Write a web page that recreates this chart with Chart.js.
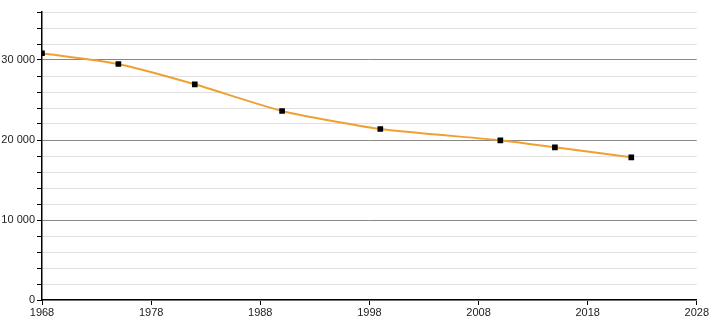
<!DOCTYPE html>
<html>
<head>
<meta charset="utf-8">
<script src="https://cdn.jsdelivr.net/npm/chart.js@4/dist/chart.umd.min.js"></script>
<style>
html,body{margin:0;padding:0;background:#fff;}
#wrap{width:710px;height:320px;position:relative;}
</style>
</head>
<body>
<div id="wrap"><canvas id="c" width="710" height="320"></canvas></div>
<script>
const years = [1968, 1975, 1982, 1990, 1999, 2010, 2015, 2022];
const population = [30840, 29500, 26960, 23630, 21380, 19960, 19080, 17830];
const xTicks = [1968, 1978, 1988, 1998, 2008, 2018, 2028];
const yLabelValues = [0, 10000, 20000, 30000];

function fmt(v){
  return String(v).replace(/\B(?=(\d{3})+(?!\d))/g, ' ');
}

new Chart(document.getElementById('c'), {
  type: 'line',
  data: {
    datasets: [{
      data: years.map((y, i) => ({x: y, y: population[i]})),
      borderColor: '#f0a030',
      borderWidth: 2,
      tension: 0.2,
      pointStyle: 'rect',
      pointRadius: 4,
      pointBackgroundColor: '#000',
      pointBorderColor: '#000',
      pointBorderWidth: 0,
      fill: false
    }]
  },
  options: {
    responsive: false,
    animation: false,
    layout: {padding: {top: 12, right: 12, left: 0, bottom: 0}},
    plugins: {legend: {display: false}, tooltip: {enabled: false}},
    scales: {
      x: {
        type: 'linear',
        min: 1968, max: 2028,
        afterBuildTicks: s => { s.ticks = xTicks.map(v => ({value: v})); },
        afterFit: s => { s.height = 20; },
        grid: {drawOnChartArea: false, drawTicks: true, tickLength: 5, tickColor: '#000'},
        border: {color: '#000', width: 1.5},
        ticks: {
          color: '#222', padding: 1,
          font: {family: 'Liberation Sans', size: 11},
          maxRotation: 0, autoSkip: false,
          callback: v => String(v)
        }
      },
      y: {
        min: 0, max: 36000,
        afterFit: s => { s.width = 42; },
        ticks: {
          stepSize: 2000,
          color: '#222', padding: 2,
          font: {family: 'Liberation Sans', size: 11},
          autoSkip: false,
          callback: v => yLabelValues.includes(v) ? fmt(v) : ''
        },
        grid: {
          color: ctx => (ctx.tick && ctx.tick.value % 10000 === 0 && ctx.tick.value !== 0) ? '#888' : '#e0e0e0',
          lineWidth: 1,
          tickLength: 5,
          tickColor: '#000'
        },
        border: {color: '#000', width: 1.5}
      }
    }
  }
});
</script>
</body>
</html>
